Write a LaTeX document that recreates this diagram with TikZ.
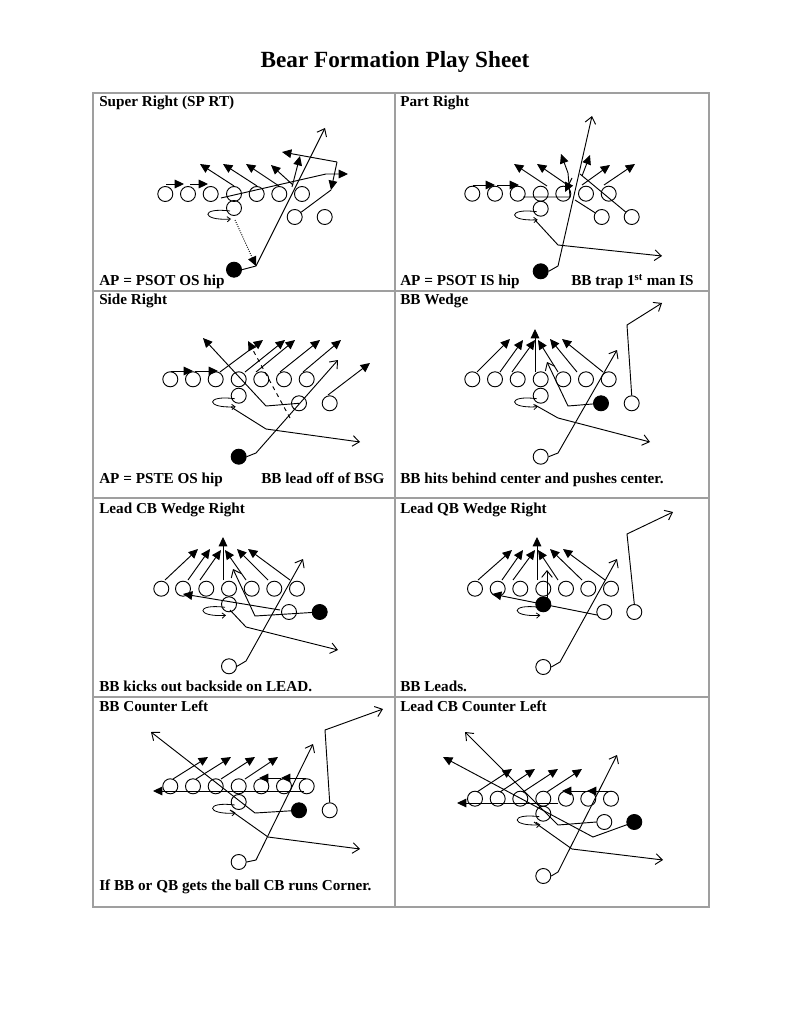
\documentclass[tikz,border=0pt]{standalone}
\usepackage{fontspec}
\setmainfont{Liberation Serif}
\usetikzlibrary{arrows.meta,calc}
\tikzset{
  pl/.style={circle,draw,line width=0.7pt,minimum size=11.25pt,inner sep=0pt},
  plf/.style={pl,fill=black},
  fa/.style={line width=0.7pt,-{Triangle[length=7pt,width=6.5pt]}},
  oa/.style={line width=0.7pt,-{Straight Barb[length=5pt,width=8pt]}},
  sa/.style={line width=0.6pt,-{Straight Barb[length=2.5pt,width=4pt]}},
  ttl/.style={anchor=base west,inner sep=0pt,font=\fontsize{11.4}{13}\selectfont\bfseries},
  grid/.style={draw=gray!75,line width=0.8pt}
}
\newcommand\spinloop[1]{\draw[sa] ($(#1)+(-4,3)$) .. controls +(-30,-4) and +(-30,2) .. ($(#1)+(-3,11)$);}
\begin{document}
\begin{tikzpicture}[x=0.75pt,y=-0.75pt]
\useasboundingbox (0,0) rectangle (791,1023);
\node[anchor=base,inner sep=0pt,font=\fontsize{17.4}{20}\selectfont\bfseries] (title) at (395,68) {Bear Formation Play Sheet};
% grid
\draw[grid] (93,93) rectangle (709,907);
\draw[grid] (395,93) -- (395,907);
\draw[grid] (93,291) -- (709,291);
\draw[grid] (93,498) -- (709,498);
\draw[grid] (93,697) -- (709,697);
% titles
\node[ttl] (t1) at (99,107) {Super Right (SP RT)};
\node[ttl] (t2) at (400,107) {Part Right};
\node[ttl] (t3) at (99,305) {Side Right};
\node[ttl] (t4) at (400,305) {BB Wedge};
\node[ttl] (t5) at (99,513) {Lead CB Wedge Right};
\node[ttl] (t6) at (400,513) {Lead QB Wedge Right};
\node[ttl] (t7) at (99,711) {BB Counter Left};
\node[ttl] (t8) at (400,711) {Lead CB Counter Left};
\node[ttl] (b1) at (99,286) {AP = PSOT OS hip};
\node[ttl] (b2a) at (400,286) {AP = PSOT IS hip};
\node[ttl] (b2b) at (571,286) {BB trap 1\textsuperscript{st} man IS};
\node[ttl] (b3a) at (99,483) {AP = PSTE OS hip};
\node[ttl] (b3b) at (261,483) {BB lead off of BSG};
\node[ttl] (b4) at (400,483) {BB hits behind center and pushes center.};
\node[ttl] (b5) at (99,691) {BB kicks out backside on LEAD.};
\node[ttl] (b6) at (400,691) {BB Leads.};
\node[ttl] (b7) at (99,890) {If BB or QB gets the ball CB runs Corner.};

% ---------- cell 1
\foreach \x [count=\i] in {165.3,188,210.7,234,256.7,279.3,302} \node[pl] (a\i) at (\x,194) {};
\node[pl] (aq) at (234,208) {};
\node[pl] (ab1) at (294.7,217) {};
\node[pl] (ab2) at (324.7,217) {};
\node[plf] (abb) at (234,269.7) {};
\draw[fa] (166,184)--(184,184);
\draw[fa] (190,184)--(208,184);
\draw[fa] (234,186)--(200,164);
\draw[fa] (257,186)--(223,164);
\draw[fa] (279,186)--(246,164);
\draw[fa] (293,185)--(271,165);
\draw[fa] (221,198)--(326,174)--(348,174);
\draw[fa] (292,187)--(300,156);
\draw[fa] (337,162)--(282,152);
\draw[fa] (337,162)--(331,190);
\draw[line width=0.7pt] (ab1)--(331,190);
\draw[oa] (abb.east)--(256,266)--(325,128);
\draw[fa,densely dotted] (235,220)--(256,266);
\spinloop{aq}

% ---------- cell 2
\foreach \x [count=\i] in {472.3,495,517.7,540.7,563.3,586,608.7} \node[pl] (c\i) at (\x,193.7) {};
\node[pl] (cq) at (540.7,208.7) {};
\node[pl] (cb1) at (601.7,217) {};
\node[pl] (cb2) at (631.7,217) {};
\node[plf] (cbb) at (540.7,271.3) {};
\draw[fa] (473,185)--(495,185);
\draw[fa] (497,185)--(519,185);
\draw[fa] (547,186)--(514,164);
\draw[fa] (569,186)--(537,164);
\draw[fa] (523,197)--(570,197)--(568,173)--(561,154);
\draw[fa] (572,178)--(565,192);
\draw[fa] (582,176)--(590,155);
\draw[fa] (582,185)--(610,165);
\draw[fa] (604,185)--(635,164);
\draw[line width=0.7pt] (580,174)--(cb2);
\draw[line width=0.7pt] (575,200)--(cb1);
\draw[oa] (cbb.east)--(558,266)--(592,116);
\draw[oa] (535,220)--(558,245)--(662,256);
\spinloop{cq}

% ---------- cell 3
\foreach \x [count=\i] in {170.3,193,215.7,238.7,261.3,284,306.7} \node[pl] (e\i) at (\x,379.3) {};
\node[pl] (eq) at (238.7,395.7) {};
\node[pl] (eb1) at (299,403.3) {};
\node[pl] (eb2) at (329.7,403.3) {};
\node[plf] (ebb) at (238.7,456.7) {};
\draw[fa] (171,371)--(193,371);
\draw[fa] (195,371)--(218,371);
\draw[fa] (eb1.center)--(266,406)--(203,338);
\draw[fa] (220,372)--(263,340);
\draw[fa] (245,372)--(285,340);
\draw[fa] (256,372)--(295,340);
\draw[fa] (280,372)--(320,340);
\draw[fa] (303,372)--(341,340);
\draw[fa] (328,395)--(370,363);
\draw[fa,dashed] (290,418)--(248,341);
\draw[oa] (231,407)--(266,429)--(360,442);
\draw[oa] (ebb.east)--(256,453)--(338,360);
\spinloop{eq}

% ---------- cell 4
\foreach \x [count=\i] in {472.3,495,517.7,540.7,563.3,586,608.7} \node[pl] (g\i) at (\x,379.3) {};
\node[pl] (gq) at (540.7,395.7) {};
\node[plf] (gb1) at (601,403.3) {};
\node[pl] (gb2) at (631.7,403.3) {};
\node[pl] (gbb) at (540.7,456.7) {};
\draw[fa] (477,372)--(510,339);
\draw[fa] (500,372)--(523,340);
\draw[fa] (512,372)--(535,340);
\draw[fa] (535,372)--(535,329);
\draw[fa] (558,372)--(538,340);
\draw[fa] (577,372)--(550,339);
\draw[fa] (603,372)--(562,339);
\draw[oa] (gb1.center)--(568,406)--(547,362);
\draw[oa] (gb2.north)--(627,325)--(662,303);
\draw[oa] (535,405)--(558,418)--(650,442);
\draw[oa] (gbb.east)--(558,453)--(617,350);
\spinloop{gq}

% ---------- cell 5
\foreach \x [count=\i] in {161.3,183,206.3,229,251.7,274.3,297} \node[pl] (k\i) at (\x,588.7) {};
\node[pl] (kq) at (229,604.3) {};
\node[pl] (kb1) at (289,612) {};
\node[plf] (kb2) at (319.7,612) {};
\node[pl] (kbb) at (229,666.3) {};
\draw[fa] (165,580)--(198,549);
\draw[fa] (188,580)--(210,549);
\draw[fa] (200,580)--(221,550);
\draw[fa] (223,580)--(223,537);
\draw[fa] (246,580)--(225,550);
\draw[fa] (268,580)--(237,549);
\draw[fa] (290,580)--(248,549);
\draw[oa] (kb2.center)--(255,616)--(233,569);
\draw[fa] (280,610)--(183,594);
\draw[oa] (230,610)--(246,627)--(338,650);
\draw[oa] (kbb.east)--(246,661)--(303,559);
\spinloop{kq}

% ---------- cell 6
\foreach \x [count=\i] in {475,497.7,520.3,543.3,566,588.3,611} \node[pl] (m\i) at (\x,588.7) {};
\node[plf] (mq) at (543.3,604.3) {};
\node[pl] (mb1) at (604.3,612) {};
\node[pl] (mb2) at (634.3,612) {};
\node[pl] (mbb) at (543.3,667) {};
\draw[fa] (478,580)--(512,550);
\draw[fa] (502,580)--(523,550);
\draw[fa] (513,580)--(535,550);
\draw[fa] (537,580)--(537,537);
\draw[fa] (558,580)--(538,550);
\draw[fa] (582,580)--(550,549);
\draw[fa] (605,580)--(563,549);
\draw[oa] (547,599)--(547,570);
\draw[fa] (597,615)--(492,594);
\draw[oa] (mb2.north)--(627,534)--(673,512);
\draw[oa] (mbb.east)--(560,662)--(617,559);
\spinloop{mq}

% ---------- cell 7
\foreach \x [count=\i] in {170.3,193,215.7,238.7,261.3,284,306.7} \node[pl] (p\i) at (\x,786.3) {};
\node[pl] (pq) at (238.7,802) {};
\node[plf] (pb1) at (299,810.3) {};
\node[pl] (pb2) at (329.7,810.3) {};
\node[pl] (pbb) at (238.7,862) {};
\draw[fa] (304,791)--(153,791);
\draw[fa] (306,778)--(281,778);
\draw[fa] (281,778)--(259,778);
\draw[fa] (173,779)--(208,757);
\draw[fa] (196,779)--(231,757);
\draw[fa] (221,779)--(255,757);
\draw[fa] (245,779)--(278,757);
\draw[oa] (pb1.center)--(255,813)--(151,732);
\draw[oa] (pb2.north)--(325,730)--(383,709);
\draw[oa] (230,810)--(268,837)--(360,849);
\draw[oa] (pbb.east)--(256,860)--(313,744);
\spinloop{pq}

% ---------- cell 8
\foreach \x [count=\i] in {475,497.7,520.3,543.3,566,588.3,611} \node[pl] (r\i) at (\x,798.7) {};
\node[pl] (rq) at (543.3,813.7) {};
\node[pl] (rb1) at (604.3,822) {};
\node[plf] (rb2) at (634.3,822) {};
\node[pl] (rbb) at (543.3,876) {};
\draw[fa] (558,803)--(457,803);
\draw[fa] (612,791)--(587,791);
\draw[fa] (587,791)--(562,791);
\draw[fa] (477,792)--(512,769);
\draw[fa] (500,792)--(535,769);
\draw[fa] (523,792)--(558,769);
\draw[fa] (547,792)--(582,769);
\draw[oa] (rb1.west)--(558,825)--(465,732);
\draw[fa] (rb2.center)--(593,837)--(443,757);
\draw[oa] (534,822)--(572,849)--(663,860);
\draw[oa] (rbb.east)--(558,872)--(617,755);
\spinloop{rq}
\end{tikzpicture}
\end{document}
